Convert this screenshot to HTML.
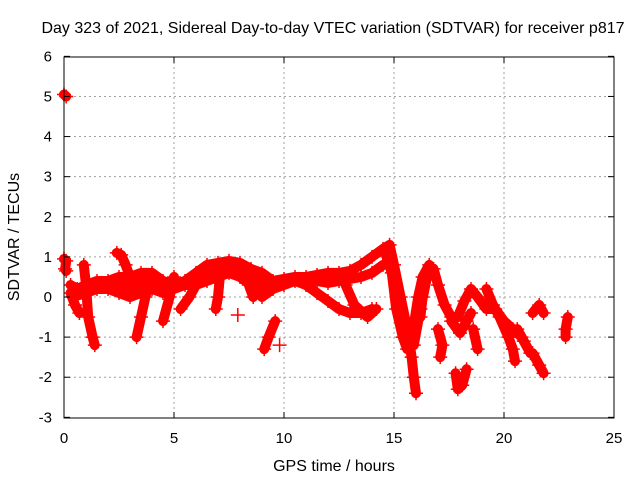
<!DOCTYPE html>
<html><head><meta charset="utf-8"><style>
body{margin:0;background:#fff}
svg text{font-family:"Liberation Sans",sans-serif;font-size:15px;fill:#000}
svg text.big{font-size:16px}
</style></head><body>
<svg id="chart" width="640" height="480">
<rect width="640" height="480" fill="#fff"/>
<text class="big" x="333" y="33" text-anchor="middle">Day 323 of 2021, Sidereal Day-to-day VTEC variation (SDTVAR) for receiver p817</text>
<text class="big" x="334" y="471" text-anchor="middle">GPS time / hours</text>
<text class="big" transform="translate(19,237) rotate(-90)" text-anchor="middle">SDTVAR / TECUs</text>
<g id="grid"></g><g id="marks"></g><g id="ticks"></g>
<rect x="64" y="57" width="550" height="361" fill="none" stroke="#000"/>
</svg>
<script>
const xTicks=[0,5,10,15,20,25];
const yTicks=[-3,-2,-1,0,1,2,3,4,5,6];
// each track: list of [hour, SDTVAR]
const trackStart=[[0,5.05],[0.1,5.0]];
const trackStart2=[[0,0.95],[0.1,0.9],[0.05,0.7],[0.1,0.65]];
const trackUpper=[[0.3,0.3],[0.6,0.2],[1.0,0.3],[1.5,0.4],[2.0,0.4],[2.5,0.5],[3.0,0.5],[3.5,0.6],[4.0,0.6],[4.5,0.4],[5.0,0.3],[5.5,0.4],[6.0,0.6],[6.5,0.8],[7.0,0.85],[7.5,0.9],[8.0,0.85],[8.5,0.7],[9.0,0.6],[9.5,0.4],[10.0,0.45],[10.5,0.5],[11,0.5],[11.5,0.55],[12,0.6],[12.5,0.6],[13,0.65],[13.5,0.8],[14,1.0],[14.5,1.2],[14.8,1.3],[15.0,0.8],[15.3,0.0],[15.6,-0.8],[15.9,-1.2],[16.2,-0.3],[16.5,0.5],[16.8,0.7],[17.0,0.3],[17.3,-0.2],[17.6,-0.5],[17.9,-0.5],[18.2,-0.1],[18.5,0.2],[18.8,0.0],[19.2,-0.3],[19.6,-0.3],[20.0,-0.6],[20.4,-0.8],[20.8,-1.0]];
const trackMid=[[0.5,0.2],[1,0.25],[1.5,0.3],[2,0.3],[2.5,0.3],[3,0.25],[3.5,0.35],[4,0.4],[4.5,0.25],[5,0.25],[5.5,0.35],[6,0.45],[6.5,0.6],[7,0.7],[7.5,0.75],[8,0.7],[8.5,0.5],[9,0.3],[9.5,0.3],[10,0.4],[10.5,0.45],[11,0.45],[11.5,0.4],[12,0.35],[12.5,0.4],[13,0.45],[13.5,0.5],[14,0.6],[14.5,0.8]];
const trackLower=[[0.4,0.0],[1,0.1],[1.5,0.2],[2,0.2],[2.5,0.1],[3,0.0],[3.5,0.1],[4,0.2],[4.5,0.1],[5,0.2],[5.5,0.3],[6,0.3],[6.5,0.4],[7,0.5],[7.5,0.6],[8,0.5],[8.5,0.3],[9,0.0],[9.5,0.2],[10,0.3],[10.5,0.4],[11,0.3],[11.5,0.1],[12,-0.1],[12.5,-0.3],[13,-0.4],[13.5,-0.4],[14,-0.3]];
const trackV=[[14.6,1.1],[14.9,0.6],[15.1,-0.3],[15.4,-1.0],[15.6,-1.3],[15.9,-0.7],[16.1,0.0],[16.3,0.5],[16.6,0.8]];
const branches=[
[[0.3,0.1],[0.5,-0.2],[0.7,-0.4]],
[[0.9,0.8],[1.0,0.3],[1.1,-0.5],[1.3,-1.0],[1.4,-1.2]],
[[2.4,1.1],[2.6,1.05],[2.8,0.8],[3.0,0.5]],
[[3.9,0.5],[3.7,0.0],[3.5,-0.5],[3.3,-1.0]],
[[5.0,0.5],[4.8,0.0],[4.5,-0.6]],
[[6.0,0.3],[5.7,0.0],[5.3,-0.3]],
[[7.1,0.6],[7.0,0.0],[6.9,-0.3]],
[[7.9,-0.45]],
[[8.4,0.3],[8.6,0.0]],
[[9.6,-0.6],[9.3,-1.0],[9.1,-1.3]],
[[9.8,-1.2]],
[[12.8,0.3],[13.2,-0.2],[13.8,-0.5],[14.2,-0.3]],
[[15.7,-1.1],[15.8,-1.5],[15.9,-2.0],[16.0,-2.4]],
[[17.8,-1.9],[17.9,-2.3],[18.1,-2.2],[18.3,-1.8]],
[[17.0,-0.8],[17.2,-1.2],[17.1,-1.5]],
[[18.6,-0.8],[18.8,-1.3]],
[[19.2,0.2],[19.5,-0.2],[19.8,-0.5],[20.2,-1.0],[20.4,-1.3],[20.5,-1.6]],
[[20.6,-0.8],[20.9,-1.1],[21.2,-1.4]],
[[21.3,-1.4],[21.6,-1.7],[21.8,-1.9]],
[[21.3,-0.4],[21.6,-0.2],[21.8,-0.4]],
[[22.8,-1.0],[22.8,-0.8],[22.9,-0.5]],
[[16.5,0.5],[16.3,0.0],[16.2,-0.5]],
[[17.6,-0.6],[18.0,-0.9],[18.3,-0.6],[18.5,-0.4]]
];
const NS="http://www.w3.org/2000/svg";
const xS=h=>64+h*22;
const yS=v=>297-v*40.11;
function mk(tag,attrs,parent){const e=document.createElementNS(NS,tag);for(const k in attrs)e.setAttribute(k,attrs[k]);parent.appendChild(e);return e;}
const grid=document.getElementById('grid'),ticks=document.getElementById('ticks'),marks=document.getElementById('marks');
xTicks.forEach(t=>{const x=xS(t);
 if(t>0&&t<25){const g=mk('line',{x1:x,x2:x,y1:57,y2:418,stroke:'#a0a0a0','stroke-dasharray':'2,3'},grid);
 
 }
 mk('line',{x1:x,x2:x,y1:418,y2:412,stroke:'#000'},ticks);mk('line',{x1:x,x2:x,y1:57,y2:63,stroke:'#000'},ticks);
 const l=mk('text',{x:x,y:443,'text-anchor':'middle'},ticks);l.textContent=t;
 
 });
yTicks.forEach(t=>{const y=yS(t);
 if(t>-3&&t<6){const g=mk('line',{x1:64,x2:614,y1:y,y2:y,stroke:'#a0a0a0','stroke-dasharray':'2,3'},grid);
 
 }
 mk('line',{x1:64,x2:70,y1:y,y2:y,stroke:'#000'},ticks);mk('line',{x1:614,x2:608,y1:y,y2:y,stroke:'#000'},ticks);
 const l=mk('text',{x:52,y:y+5,'text-anchor':'end'},ticks);l.textContent=t;
 
 });
const all=[trackStart,trackStart2,trackUpper,trackMid,trackLower,trackV].concat(branches);
all.forEach(tr=>{
 const pts=tr.map(p=>xS(p[0])+','+yS(p[1])).join(' ');
 const pl=mk('polyline',{points:pts,fill:'none',stroke:'#f00','stroke-width':10,'stroke-linejoin':'round','stroke-linecap':'round'},marks);
 
 
 tr.forEach(p=>{const x=xS(p[0]),y=yS(p[1]);
  const m=mk('path',{d:`M${x-7},${y}h14M${x},${y-7}v14`,stroke:'#f00','stroke-width':1.5},marks);
  
  });
});
</script>
</body></html>
